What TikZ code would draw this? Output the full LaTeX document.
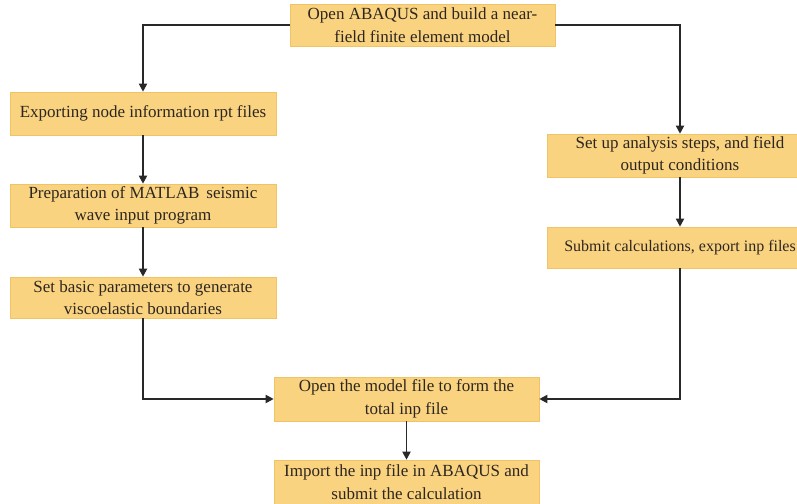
\documentclass[tikz,border=0pt]{standalone}
\usepackage{fontspec}
\setmainfont{Liberation Serif}
\usetikzlibrary{arrows.meta}
\definecolor{boxfill}{RGB}{249,211,128}
\definecolor{boxedge}{RGB}{240,196,100}
\definecolor{txt}{RGB}{45,38,32}
\definecolor{linec}{RGB}{40,40,40}
\tikzset{
  stepbox/.style={rectangle, fill=boxfill, draw=boxedge, line width=0.6pt,
    minimum width=266pt, minimum height=43pt, inner sep=0pt, align=center,
    text=txt, font=\fontsize{17}{22.5}\selectfont},
  flow/.style={draw=linec, line width=1.8pt, -{Triangle[length=8pt,width=8pt]}}
}
\begin{document}
\begin{tikzpicture}[x=1pt,y=-1pt]
\useasboundingbox (0,0) rectangle (797,503);
\node[stepbox, minimum width=265pt, minimum height=42pt] (top) at (422.5,25) {Open ABAQUS and build a near-\\field finite element model};
\node[stepbox] (exp) at (143,113.5) {Exporting node information rpt files};
\node[stepbox] (prep) at (143,205.5) {Preparation of MATLAB\, seismic\\wave input program};
\node[stepbox, minimum height=41pt] (setb) at (143,297.5) {Set basic parameters to generate\\viscoelastic boundaries};
\node[stepbox] (setup) at (680,155.5) {Set up analysis steps, and field\\output conditions};
\node[stepbox, minimum height=41pt, font=\fontsize{16}{22.5}\selectfont] (sub) at (680,247.5) {Submit calculations, export inp files};
\node[stepbox, minimum width=265pt, minimum height=44pt] (open) at (406.5,399) {Open the model file to form the\\total inp file};
\node[stepbox, minimum width=265pt, minimum height=44pt] (imp) at (406.5,482) {Import the inp file in ABAQUS and\\submit the calculation};
\draw[flow] (top.west) -| (exp.north);
\draw[flow] (top.east) -| (setup.north);
\draw[flow] (exp) -- (prep);
\draw[flow] (prep) -- (setb);
\draw[flow] (setb.south) |- (open.west);
\draw[flow] (setup) -- (sub);
\draw[flow] (sub.south) |- (open.east);
\draw[flow] (open) -- (imp);
\end{tikzpicture}
\end{document}
